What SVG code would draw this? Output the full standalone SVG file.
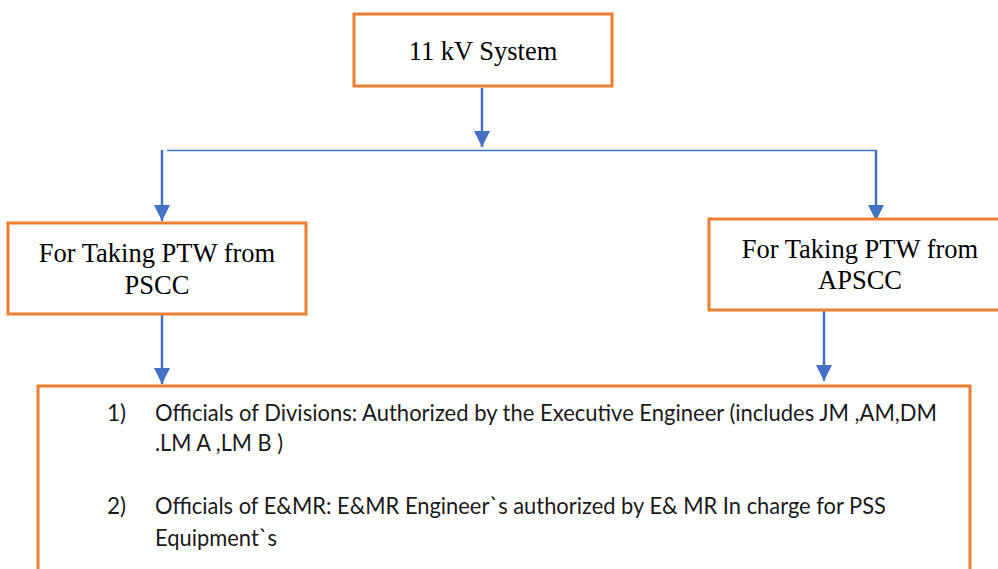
<svg xmlns="http://www.w3.org/2000/svg" width="998" height="569" viewBox="0 0 998 569">
<style>
.box{fill:#ffffff;stroke:#ED7D31;stroke-width:3}
.t{font-family:"Liberation Serif","Times New Roman",serif;font-size:26.5px;fill:#000;text-anchor:middle}
.b{font-family:"Lato","Noto Sans",sans-serif;font-size:22.5px;fill:#1a1a1a}
.c{fill:none;stroke:#4472C4;stroke-width:2.5}
.h{fill:none;stroke:#4472C4;stroke-width:1.5}
</style>
<defs>
<marker id="ah" markerUnits="userSpaceOnUse" markerWidth="16" markerHeight="16" viewBox="0 0 16 16" refX="16" refY="8" orient="auto">
<path d="M0,0 L16,8 L0,16 Z" fill="#4472C4"/>
</marker>
</defs>
<rect width="998" height="569" fill="#ffffff"/>
<g id="connectors">
<line class="c" x1="482" y1="88" x2="482" y2="147" marker-end="url(#ah)"/>
<line class="h" x1="167" y1="150.5" x2="876" y2="150.5"/>
<line class="c" x1="162" y1="150" x2="162" y2="221" marker-end="url(#ah)"/>
<line class="c" x1="876" y1="150" x2="876" y2="221" marker-end="url(#ah)"/>
<line class="c" x1="162" y1="315" x2="162" y2="384" marker-end="url(#ah)"/>
<line class="c" x1="824" y1="311" x2="824" y2="381" marker-end="url(#ah)"/>
</g>
<g id="node-11kv">
<rect class="box" x="354" y="14" width="258" height="72"/>
<text class="t" x="483" y="60">11 kV System</text>
</g>
<g id="node-pscc">
<rect class="box" x="8" y="223" width="298" height="91"/>
<text class="t" x="157" y="262">For Taking PTW from</text>
<text class="t" x="157" y="294">PSCC</text>
</g>
<g id="node-apscc">
<rect class="box" x="709" y="219" width="303" height="91"/>
<text class="t" x="860" y="258">For Taking PTW from</text>
<text class="t" x="860" y="289">APSCC</text>
</g>
<g id="node-officials">
<rect class="box" x="38" y="386" width="932" height="220"/>
<text class="b" x="107" y="421">1)</text>
<text class="b" x="155" y="421" textLength="782" lengthAdjust="spacingAndGlyphs">Officials of Divisions: Authorized by the Executive Engineer (includes JM ,AM,DM</text>
<text class="b" x="155" y="451" textLength="128" lengthAdjust="spacingAndGlyphs">.LM A ,LM B )</text>
<text class="b" x="107" y="514">2)</text>
<text class="b" x="155" y="514" textLength="731" lengthAdjust="spacingAndGlyphs">Officials of E&amp;MR: E&amp;MR Engineer`s authorized by E&amp; MR In charge for PSS</text>
<text class="b" x="155" y="546" textLength="122" lengthAdjust="spacingAndGlyphs">Equipment`s</text>
</g>
</svg>
